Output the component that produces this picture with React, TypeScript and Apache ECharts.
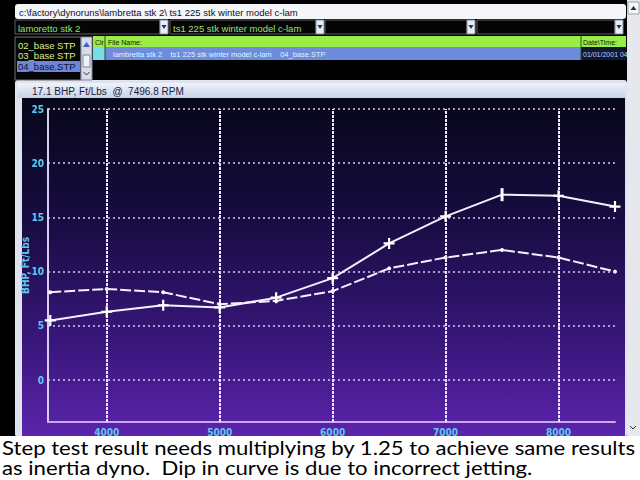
import React, { useEffect, useRef } from "react";
import * as echarts from "echarts";

const rpm = [3500, 4000, 4500, 5000, 5500, 6000, 6500, 7000, 7500, 8000, 8500];
const powerSolid = [5.5, 6.3, 6.9, 6.7, 7.6, 9.4, 12.6, 15.1, 17.1, 17.0, 16.0];
const powerDashed = [8.1, 8.4, 8.1, 7.0, 7.3, 8.2, 10.3, 11.3, 12.0, 11.3, 10.0];
const xTicks = [4000, 5000, 6000, 7000, 8000];
const yTicks = [0, 5, 10, 15, 20, 25];
const peakIndex = 8;

const pathText = "c:\\factory\\dynoruns\\lambretta stk 2\\ ts1 225 stk winter model c-lam";
const dropTexts = ["lamoretto stk 2", "ts1 225 stk winter model c-lam", "", ""];
const listItems = ["02_base STP", "03_base STP", "04_base.STP"];
const rowText = "lambretta stk 2    ts1 225 stk winter model c-lam    04_base.STP";
const dateText = "01/01/2001 04";
const titleText = "17.1 BHP, Ft/Lbs  @  7496.8 RPM";
const caption1 = "Step test result needs multiplying by 1.25 to achieve same results";
const caption2 = "as inertia dyno.  Dip in curve is due to incorrect jetting.";

function measure(text: string, font: string): number {
  const c = document.createElement("canvas").getContext("2d");
  if (!c) return 600;
  c.font = font;
  return c.measureText(text).width;
}

export default function App() {
  const ref = useRef<HTMLDivElement>(null);
  useEffect(() => {
    document.body.style.margin = "0";
    const chart = echarts.init(ref.current!, null, { renderer: "svg" });
    const capFont = "20px Lato";
    const capScale = 634 / measure(caption1, capFont);

    const uiFont = "Liberation Sans";
    const els: any[] = [];
    // right scrollbar
    els.push({ type: "rect", shape: { x: 627, y: 0, width: 13, height: 437 }, style: { fill: "#e6e8ee" }, z: -5 });
    els.push({ type: "rect", shape: { x: 628, y: 2, width: 11, height: 12 }, style: { fill: "#f6f6f8", stroke: "#9aa0b0", lineWidth: 1 }, z: -4 });
    els.push({ type: "polygon", shape: { points: [[630.5, 10], [633.5, 6], [636.5, 10]] }, style: { fill: "#303040" }, z: -3 });
    els.push({ type: "polyline", shape: { points: [[630, 426], [633, 429], [636, 426]] }, style: { stroke: "#303040", lineWidth: 1 }, z: -3 });
    // path bar
    els.push({ type: "rect", shape: { x: 15, y: 4, width: 611, height: 15, r: 3 }, style: { fill: "#f4f6fa" }, z: -5 });
    els.push({ type: "text", x: 19, y: 12, style: { text: pathText, font: `9.5px ${uiFont}`, fill: "#101018", verticalAlign: "middle" }, z: -4 });
    // dropdowns
    const drops = [[15, 160], [170, 316], [325, 467], [477, 615]];
    drops.forEach((d, i) => {
      els.push({ type: "rect", shape: { x: d[0], y: 20, width: d[1] - d[0], height: 14 }, style: { fill: "#050505", stroke: "#606060", lineWidth: 1 }, z: -4 });
      els.push({ type: "rect", shape: { x: d[1], y: 20, width: 8, height: 14 }, style: { fill: "#e8ecf4", stroke: "#8090a8", lineWidth: 1 }, z: -4 });
      els.push({ type: "polygon", shape: { points: [[d[1] + 1.5, 25], [d[1] + 6.5, 25], [d[1] + 4, 29]] }, style: { fill: "#203060" }, z: -3 });
      if (dropTexts[i]) {
        els.push({ type: "text", x: d[0] + 3, y: 28, style: { text: dropTexts[i], font: `9.5px ${uiFont}`, fill: "#9ee070", verticalAlign: "middle" }, z: -3 });
      }
    });
    // list box
    els.push({ type: "rect", shape: { x: 15, y: 37, width: 66, height: 43 }, style: { fill: "#050505", stroke: "#707070", lineWidth: 1 }, z: -4 });
    els.push({ type: "rect", shape: { x: 17, y: 61, width: 63, height: 11 }, style: { fill: "#6e86d8" }, z: -3 });
    listItems.forEach((t, i) => {
      els.push({ type: "text", x: 18, y: 45 + i * 10.5, style: { text: t, font: `9.5px ${uiFont}`, fill: i === 2 ? "#0a1030" : "#d8f090", verticalAlign: "middle" }, z: -2 });
    });
    els.push({ type: "rect", shape: { x: 81, y: 37, width: 11, height: 43 }, style: { fill: "#d8dce6", stroke: "#8088a0", lineWidth: 1 }, z: -4 });
    els.push({ type: "polygon", shape: { points: [[83, 47], [86.5, 42], [90, 47]] }, style: { fill: "#4060c0" }, z: -3 });
    els.push({ type: "rect", shape: { x: 83, y: 55, width: 7, height: 12 }, style: { fill: "#f0f2f8", stroke: "#8088a0", lineWidth: 1 }, z: -3 });
    els.push({ type: "polyline", shape: { points: [[83.5, 72], [86.5, 75], [89.5, 72]] }, style: { stroke: "#203060", lineWidth: 1 }, z: -3 });
    // header
    els.push({ type: "rect", shape: { x: 93, y: 36, width: 533, height: 11 }, style: { fill: "#98ee44" }, z: -4 });
    els.push({ type: "line", shape: { x1: 105, y1: 36, x2: 105, y2: 60 }, style: { stroke: "#2a4a20", lineWidth: 1 }, z: -3 });
    els.push({ type: "line", shape: { x1: 581, y1: 36, x2: 581, y2: 60 }, style: { stroke: "#2a4a20", lineWidth: 1 }, z: -3 });
    els.push({ type: "text", x: 95, y: 42, style: { text: "Clr", font: `7px ${uiFont}`, fill: "#102010", verticalAlign: "middle" }, z: -2 });
    els.push({ type: "text", x: 108, y: 42, style: { text: "File Name:", font: `7px ${uiFont}`, fill: "#102010", verticalAlign: "middle" }, z: -2 });
    els.push({ type: "text", x: 583, y: 42, style: { text: "Date\\Time:", font: `7px ${uiFont}`, fill: "#102010", verticalAlign: "middle" }, z: -2 });
    // file row
    els.push({ type: "rect", shape: { x: 93, y: 47, width: 12, height: 13 }, style: { fill: "#78dce8" }, z: -4 });
    els.push({ type: "rect", shape: { x: 105, y: 47, width: 476, height: 13 }, style: { fill: "#6e8cdc" }, z: -4 });
    els.push({ type: "rect", shape: { x: 581, y: 47, width: 45, height: 13 }, style: { fill: "#101830" }, z: -4 });
    els.push({ type: "text", x: 113, y: 54, style: { text: rowText, font: `7.5px ${uiFont}`, fill: "#dff6ff", verticalAlign: "middle" }, z: -2 });
    els.push({ type: "text", x: 583, y: 54, style: { text: dateText, font: `7px ${uiFont}`, fill: "#b0ccff", verticalAlign: "middle" }, z: -2 });
    // chart window frame
    els.push({ type: "rect", shape: { x: 15, y: 80, width: 612, height: 357, r: 3 }, style: { fill: "#dfe3ee" }, z: -6 });
    els.push({
      type: "rect", shape: { x: 17, y: 83, width: 608, height: 15 },
      style: { fill: new echarts.graphic.LinearGradient(0, 0, 0, 1, [{ offset: 0, color: "#f0f4fa" }, { offset: 1, color: "#c6d2e6" }]) }, z: -5,
    });
    els.push({ type: "text", x: 32, y: 91, style: { text: titleText, font: `10px ${uiFont}`, fill: "#1a2040", verticalAlign: "middle" }, z: -4 });
    els.push({
      type: "rect", shape: { x: 22, y: 98, width: 603, height: 339 },
      style: {
        fill: new echarts.graphic.LinearGradient(0, 0, 0, 1, [
          { offset: 0, color: "#07071a" },
          { offset: 0.35, color: "#170c40" },
          { offset: 0.7, color: "#371678" },
          { offset: 1, color: "#5c24ac" },
        ]),
      },
      z: -5,
    });
    // caption
    els.push({ type: "rect", shape: { x: 0, y: 436, width: 640, height: 44 }, style: { fill: "#ffffff" }, z: 100 });
    els.push({ type: "text", x: 2, y: 447, scaleX: capScale, style: { text: caption1, x: 0, y: 0, font: capFont, fill: "#000000", verticalAlign: "middle" }, z: 101 });
    els.push({ type: "text", x: 2, y: 467, scaleX: capScale, style: { text: caption2, x: 0, y: 0, font: capFont, fill: "#000000", verticalAlign: "middle" }, z: 101 });

    const cyan = "#5cc8f0";
    const tickFont = "DejaVu Sans Condensed, DejaVu Sans";
    chart.setOption({
      animation: false,
      backgroundColor: "#000000",
      graphic: { elements: els },
      grid: { left: 48, top: 109, width: 567, height: 313 },
      xAxis: {
        type: "value",
        min: 3480,
        max: 8500,
        name: "RPM",
        nameLocation: "middle",
        nameGap: 16,
        nameMoveOverlap: false,
        nameTextStyle: { color: cyan, fontSize: 10, fontWeight: "bold", fontFamily: tickFont },
        axisLine: { show: true, onZero: false, lineStyle: { color: "#c8a8f0", width: 2 } },
        axisTick: { show: false },
        splitLine: { show: false },
        axisLabel: {
          customValues: xTicks,
          formatter: (v: number) => String(v),
          color: cyan,
          fontSize: 10,
          fontWeight: "bold",
          fontFamily: tickFont,
          margin: 5,
        },
      },
      yAxis: {
        type: "value",
        min: -3.87,
        max: 25,
        name: "BHP, Ft/Lbs",
        nameLocation: "middle",
        nameGap: 18,
        nameMoveOverlap: false,
        nameRotate: 90,
        nameTextStyle: { color: cyan, fontSize: 10, fontWeight: "bold", fontFamily: tickFont },
        axisLine: { show: true, onZero: false, lineStyle: { color: "#d8ccf4", width: 2 } },
        axisTick: { show: false },
        splitLine: { show: false },
        axisLabel: {
          customValues: yTicks,
          formatter: (v: number) => String(v),
          color: cyan,
          fontSize: 10,
          fontWeight: "bold",
          fontFamily: tickFont,
          margin: 4,
        },
      },
      series: [
        {
          type: "line",
          data: rpm.map((r, i) =>
            i === peakIndex
              ? { value: [r, powerSolid[i]], symbol: "rect", symbolSize: [3, 13] }
              : [r, powerSolid[i]]
          ),
          symbol: "path://M4,0h2v10h-2zM0,4h10v2h-10z",
          symbolSize: 11,
          showAllSymbol: true,
          itemStyle: { color: "#ffffff" },
          lineStyle: { color: "#f4f0ff", width: 2 },
          z: 5,
          markLine: {
            silent: true,
            symbol: ["none", "none"],
            label: { show: false },
            data: [
              ...yTicks.map((v) => ({ yAxis: v, lineStyle: { color: "#d4ccf2", width: 1.5, type: [2, 3] } })),
              ...xTicks.map((v) => ({ xAxis: v, lineStyle: { color: "#ece6ff", width: 2, type: [3, 1] } })),
            ],
          },
        },
        {
          type: "line",
          data: rpm.map((r, i) => [r, powerDashed[i]]),
          symbol: "circle",
          symbolSize: 4,
          showAllSymbol: true,
          itemStyle: { color: "#ffffff" },
          lineStyle: { color: "#f4f0ff", width: 2, type: [11, 3] },
          z: 4,
        },
      ],
    });
    return () => chart.dispose();
  }, []);
  return <div ref={ref} style={{ position: "fixed", left: 0, top: 0, width: 640, height: 480 }} />;
}
